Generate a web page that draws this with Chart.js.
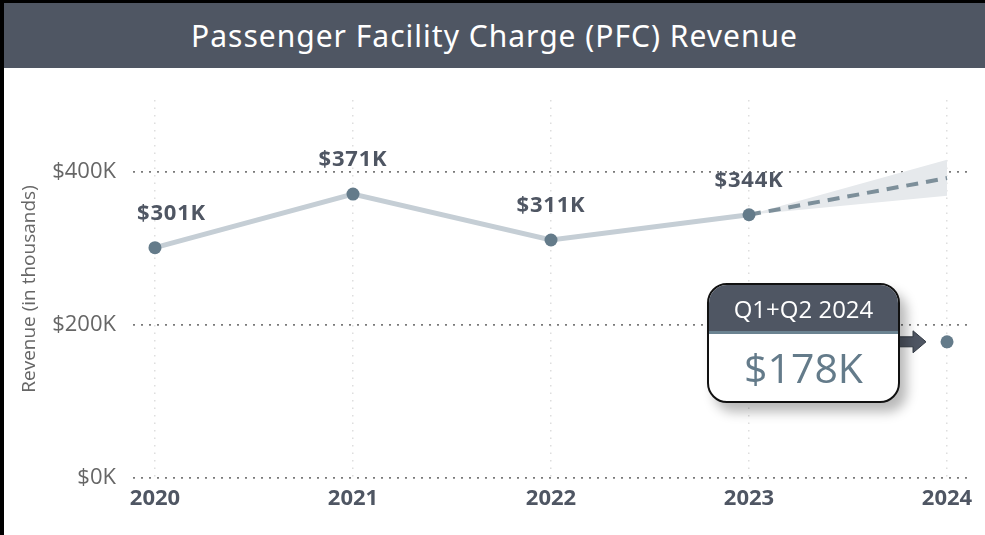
<!DOCTYPE html>
<html>
<head>
<meta charset="utf-8">
<script src="https://cdn.jsdelivr.net/npm/chart.js@4.4.0/dist/chart.umd.min.js"></script>
<style>
  html, body { margin: 0; padding: 0; background: #fff; }
  body { width: 985px; height: 535px; position: relative; overflow: hidden; font-family: "Open Sans", "Noto Sans", sans-serif; }
  #frame { position: absolute; left: 0; top: 0; width: 981px; height: 532px; border-left: 4px solid #000; border-top: 3px solid #000; }
  #title { position: absolute; left: 4px; top: 3px; width: 981px; height: 65px; background: #4f5663; color: #fff;
           font-family: "Noto Sans", sans-serif; font-size: 30px; line-height: 66px; text-align: center; letter-spacing: 1px; }
  #wrap { position: absolute; left: 4px; top: 68px; width: 981px; height: 467px; }
  #callout { position: absolute; width: 189px; height: 116px; border: 2px solid #111; border-radius: 20px; background: #fff;
             overflow: hidden; box-shadow: 7px 9px 12px rgba(0,0,0,0.28); }
  #callout .head { height: 46px; background: #4f5663; color: #fff; font-size: 24px; line-height: 48px; text-align: center; border-bottom: 3px solid #6b8391; }
  #callout .val { color: #647b8a; font-size: 41px; line-height: 66px; text-align: center; }
</style>
</head>
<body>
<div id="frame"></div>
<div id="title">Passenger Facility Charge (PFC) Revenue</div>
<div id="wrap"><canvas id="myChart" width="981" height="467"></canvas></div>
<div id="callout"><div class="head" id="calloutHead"></div><div class="val" id="calloutVal"></div></div>
<script>
const years = [2020, 2021, 2022, 2023, 2024];
const revenue = [301, 371, 311, 344];        // full years, in $K
const partialLabel = "Q1+Q2 2024";
const partialValue = 178;                    // Q1+Q2 2024, in $K
const forecast = [344, 392];                 // 2023 -> 2024
const forecastHigh = [344, 416];
const forecastLow = [344, 369];
const yTicks = [0, 200, 400];

const slate = "#4f5663";
const fmt = (v) => "$" + v + "K";

const pts = (xs, vs) => vs.map((v, i) => ({ x: xs[i], y: v }));

// labels above the actual points, plus arrow + callout for the partial year
const labelPlugin = {
    id: "pointLabels",
    afterDatasetsDraw(chart) {
        const ctx = chart.ctx;
        const meta = chart.getDatasetMeta(0);
        ctx.save();
        ctx.font = "bold 22px 'Open Sans'";
        ctx.letterSpacing = "0.8px";
        ctx.fillStyle = slate;
        ctx.textBaseline = "middle";
        ctx.textAlign = "center";
        meta.data.forEach((el, i) => {
            const text = fmt(revenue[i]);
            const w = ctx.measureText(text).width;
            let x = el.x;
            if (x - w / 2 < chart.chartArea.left + 4) x = chart.chartArea.left + 4 + w / 2;
            ctx.fillText(text, x, el.y - 34);
        });
        ctx.restore();
    },
    afterDraw(chart) {
        const el = chart.getDatasetMeta(4).data[0];
        const ctx = chart.ctx;
        const tipX = el.x - 21, y = el.y;
        ctx.save();
        ctx.fillStyle = slate;
        ctx.strokeStyle = "#333a44";
        ctx.lineWidth = 1;
        ctx.beginPath();
        ctx.moveTo(tipX - 36, y - 5);
        ctx.lineTo(tipX - 13, y - 5);
        ctx.lineTo(tipX - 13, y - 11);
        ctx.lineTo(tipX, y);
        ctx.lineTo(tipX - 13, y + 11);
        ctx.lineTo(tipX - 13, y + 5);
        ctx.lineTo(tipX - 36, y + 5);
        ctx.closePath();
        ctx.fill();
        ctx.stroke();
        ctx.restore();

        const box = document.getElementById("callout");
        const wrap = document.getElementById("wrap");
        box.style.left = (wrap.offsetLeft + el.x - 47 - 193) + "px";
        box.style.top = (wrap.offsetTop + el.y - 59) + "px";
    }
};

document.getElementById("calloutHead").textContent = partialLabel;
document.getElementById("calloutVal").textContent = fmt(partialValue);

const ctx = document.getElementById("myChart").getContext("2d");
new Chart(ctx, {
    type: "line",
    data: {
        datasets: [
            {
                label: "Revenue",
                data: pts(years, revenue),
                borderColor: "#c5ced5",
                borderWidth: 5,
                pointRadius: 6.5,
                pointBackgroundColor: "#647b8a",
                pointBorderWidth: 0,
                tension: 0,
                order: 1,
            },
            {
                label: "Forecast",
                data: pts(years.slice(3), forecast),
                borderColor: "#7d8f9a",
                borderWidth: 4,
                borderDash: [12, 8],
                pointRadius: 0,
                order: 2,
            },
            {
                label: "High",
                data: pts(years.slice(3), forecastHigh),
                borderWidth: 0,
                pointRadius: 0,
                fill: "+1",
                backgroundColor: "#e6e9ec",
                order: 3,
            },
            {
                label: "Low",
                data: pts(years.slice(3), forecastLow),
                borderWidth: 0,
                pointRadius: 0,
                order: 3,
            },
            {
                label: partialLabel,
                data: [{ x: years[4], y: partialValue }],
                showLine: false,
                pointRadius: 6.5,
                pointBackgroundColor: "#647b8a",
                pointBorderWidth: 0,
                order: 0,
            },
        ],
    },
    options: {
        responsive: false,
        animation: false,
        layout: { padding: { top: 32, right: 15 } },
        plugins: {
            legend: { display: false },
            tooltip: { enabled: false },
        },
        scales: {
            x: {
                type: "linear",
                min: 2019.889,
                max: 2024.116,
                afterBuildTicks: (s) => { s.ticks = years.map((v) => ({ value: v })); },
                afterFit: (s) => { s.height = 57; },
                border: { display: false, dash: [1.5, 6] },
                grid: { color: "#dedede", lineWidth: 1.5, drawTicks: false },
                ticks: {
                    color: slate,
                    font: { family: "'Open Sans'", size: 22, weight: "bold" },
                    padding: 8,
                    callback: (v) => String(v),
                },
            },
            y: {
                min: 0,
                max: 494,
                afterBuildTicks: (s) => { s.ticks = yTicks.map((v) => ({ value: v })); },
                afterFit: (s) => { s.width = 129; },
                border: { display: false, dash: [2, 6] },
                grid: { color: "#7a7a7a", lineWidth: 1.8, drawTicks: false },
                ticks: {
                    color: "#666",
                    font: { family: "'Open Sans'", size: 22 },
                    padding: 17,
                    callback: (v) => fmt(v),
                },
                title: {
                    display: true,
                    text: "Revenue (in thousands)",
                    color: "#666",
                    font: { family: "'Open Sans'", size: 19 },
                    padding: { top: 14, bottom: 0 },
                },
            },
        },
    },
    plugins: [labelPlugin],
});
</script>
</body>
</html>
